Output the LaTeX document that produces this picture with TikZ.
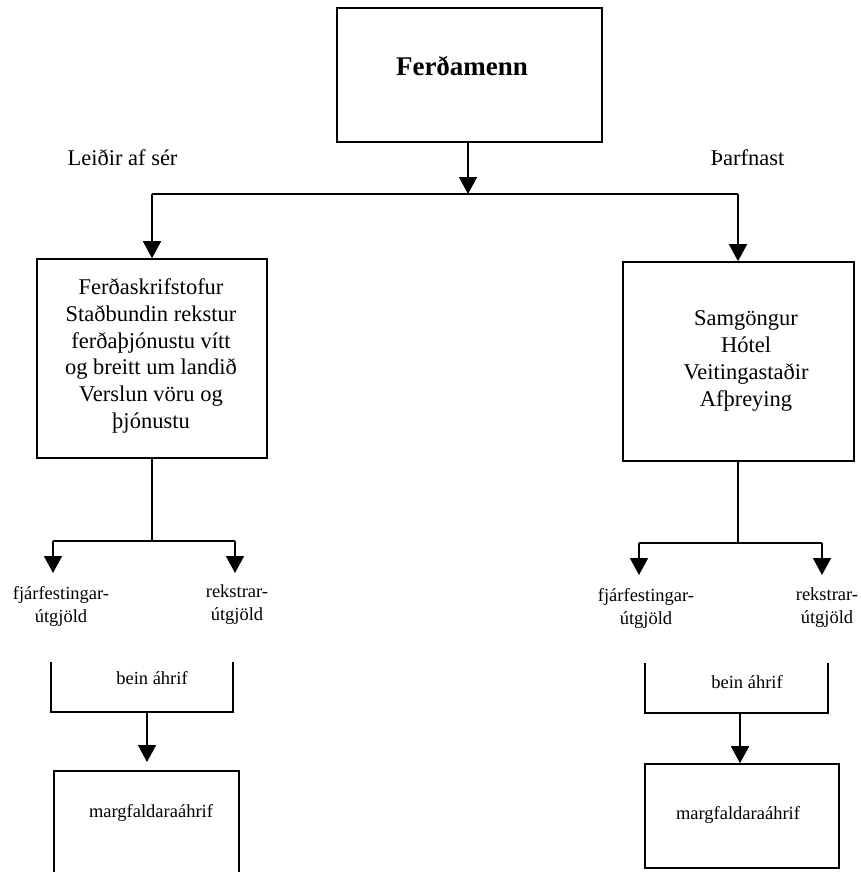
\documentclass[tikz,border=0pt]{standalone}
\usepackage{fontspec}
\setmainfont{Liberation Serif}
\usetikzlibrary{arrows.meta}
\begin{document}
\begin{tikzpicture}[x=1pt,y=-1pt,
  box/.style={draw,line width=1.6pt,inner sep=0pt},
  conn/.style={line width=1.6pt},
  arr/.style={conn,-{Triangle[width=18pt,length=17pt]}},
  big/.style={font=\fontsize{22.5}{26.8}\selectfont,align=center,inner sep=0pt},
  small/.style={font=\fontsize{18.5}{23}\selectfont,align=center,inner sep=0pt},
]
\useasboundingbox[fill=white] (0,0) rectangle (861,872);
\clip (0,0) rectangle (861,872);
% boxes
\node[box,minimum width=265pt,minimum height=134pt] (top) at (469.5,75) {};
\node[box,minimum width=230pt,minimum height=199pt] (lbox) at (152,358.5) {};
\node[box,minimum width=231pt,minimum height=199pt] (rbox) at (738.5,361.5) {};
\node[box,minimum width=185pt,minimum height=108pt] (lbot) at (146.5,825) {};
\node[box,minimum width=194pt,minimum height=104pt] (rbot) at (742,816) {};
% texts
\node[inner sep=0pt,font=\fontsize{27}{30}\selectfont\bfseries] (ttop) at (462,66) {Ferðamenn};
\node[big] (lead) at (122.5,158) {Leiðir af sér};
\node[big] (need) at (747.5,158) {Þarfnast};
\node[big] (ltext) at (151,356) {Ferðaskrifstofur\\Staðbundin rekstur\\ferðaþjónustu vítt\\og breitt um landið\\Verslun vöru og\\þjónustu};
\node[big] (rtext) at (746,361) {Samgöngur\\Hótel\\Veitingastaðir\\Afþreying};
\node[small] (lfj) at (61,606) {fjárfestingar-\\útgjöld};
\node[small] (lre) at (237,605) {rekstrar-\\útgjöld};
\node[small] (rfj) at (646,608) {fjárfestingar-\\útgjöld};
\node[small] (rre) at (827,608) {rekstrar-\\útgjöld};
\node[small] (lbein) at (152,678) {bein áhrif};
\node[small] (rbein) at (747,682) {bein áhrif};
\node[small] (lmarg) at (151,813) {margfaldaraáhrif};
\node[small] (rmarg) at (738,815) {margfaldaraáhrif};
% coordinates
\coordinate (j) at (468,194);
\coordinate (jl) at (152,194);
\coordinate (jr) at (738,194);
\coordinate (lj) at (152,541);
\coordinate (lja) at (53,541);
\coordinate (ljb) at (235,541);
\coordinate (lta) at (53,573);
\coordinate (ltb) at (235,573);
\coordinate (rj) at (738,543);
\coordinate (rja) at (639,543);
\coordinate (rjb) at (822,543);
\coordinate (rta) at (639,575);
\coordinate (rtb) at (822,575);
\coordinate (lba) at (51,662);
\coordinate (lbb) at (233,662);
\coordinate (lbm) at (147,712);
\coordinate (lbt) at (147,762);
\coordinate (rba) at (645,663);
\coordinate (rbb) at (828,663);
\coordinate (rbm) at (740,713);
% connectors
\draw[arr] (top.south -| j) -- (j);
\draw[conn] (jl) -- (jr);
\draw[arr] (jl) -- (lbox.north);
\draw[arr] (jr) -- (rbox.north -| jr);
\draw[conn] (lbox.south) -- (lj);
\draw[conn] (lja) -- (ljb);
\draw[arr] (lja) -- (lta);
\draw[arr] (ljb) -- (ltb);
\draw[conn] (rbox.south -| rj) -- (rj);
\draw[conn] (rja) -- (rjb);
\draw[arr] (rja) -- (rta);
\draw[arr] (rjb) -- (rtb);
\draw[conn] (lba) -- (lba |- lbm) -- (lbb |- lbm) -- (lbb);
\draw[arr] (lbm) -- (lbt);
\draw[conn] (rba) -- (rba |- rbm) -- (rbb |- rbm) -- (rbb);
\draw[arr] (rbm) -- (rbot.north -| rbm);
\end{tikzpicture}
\end{document}
